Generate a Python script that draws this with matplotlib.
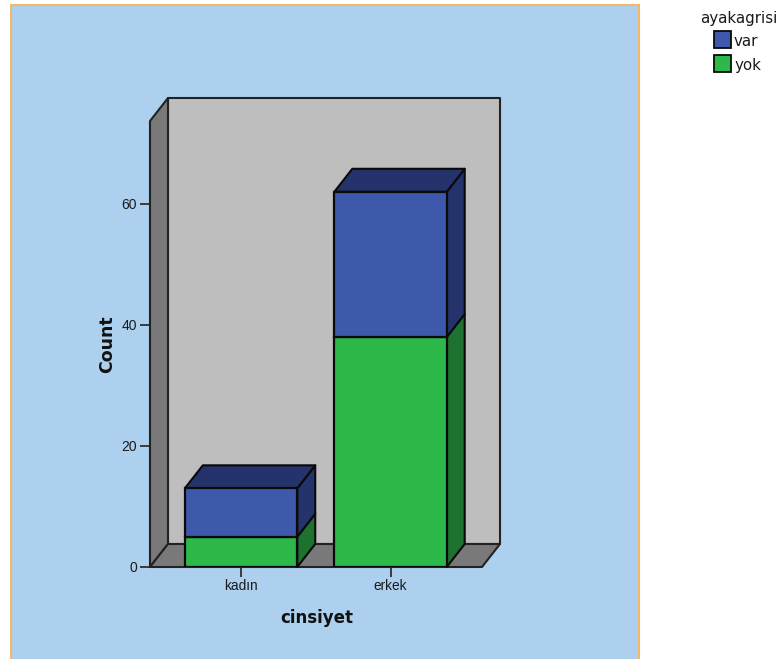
import numpy as np
from matplotlib import pyplot as plt
from matplotlib.patches import Polygon, Rectangle

categories = ['kadın', 'erkek']
yok_counts = np.array([5, 38])
var_counts = np.array([8, 24])
y_ticks = [0, 20, 40, 60]

W, H = 782, 659
BLUE, BLUE_DARK = '#3E58AC', '#24336B'
GREEN, GREEN_DARK = '#2DB84A', '#1C722E'
WALL, WALL_DARK = '#BEBEBE', '#797979'
EDGE = '#0A0A0A'
BAR_WIDTH = 0.752
PANEL = '#ADD0EE'


def fig_box(x0, y0, x1, y1):
    # pixel box, y measured from the top, to figure fractions
    return x0 / W, 1 - y1 / H, (x1 - x0) / W, (y1 - y0) / H


fig = plt.figure(figsize=(W / 100, H / 100), dpi=100, facecolor='white')
plt.rcParams['font.family'] = ['Liberation Sans', 'DejaVu Sans']

x, y, w, h = fig_box(11, 5, 639, 664)
fig.add_artist(Rectangle((x, y), w, h, transform=fig.transFigure, zorder=-1,
                         facecolor=PANEL, edgecolor='#F2B768', linewidth=1.5))

x, y, w, h = fig_box(150, 121, 482, 567)
ax = fig.add_axes([x, y, w, h], facecolor='none')
ax.set_xlim(-0.609, 1.612)
ax.set_ylim(0, 73.7)

# depth of the 3D box, in data units
dx = 18 / 149.5
dy = 23 / 6.05
x_left, x_right = ax.get_xlim()
y_top = ax.get_ylim()[1]


def face(points, color, z=2, edge=EDGE):
    ax.add_patch(Polygon(points, closed=True, facecolor=color, edgecolor=edge,
                         linewidth=1.5, joinstyle='round', clip_on=False, zorder=z))


# back wall, left wall, floor
face([(x_left + dx, dy), (x_right + dx, dy), (x_right + dx, y_top + dy), (x_left + dx, y_top + dy)], WALL, 1, '#222222')
face([(x_left, 0), (x_left + dx, dy), (x_left + dx, y_top + dy), (x_left, y_top)], WALL_DARK, 1, '#222222')
face([(x_left, 0), (x_right, 0), (x_right + dx, dy), (x_left + dx, dy)], WALL_DARK, 1, '#222222')

positions = np.arange(len(categories))
ax.bar(positions, yok_counts, BAR_WIDTH, color=GREEN, edgecolor=EDGE, linewidth=1.6, zorder=4)
ax.bar(positions, var_counts, BAR_WIDTH, bottom=yok_counts, color=BLUE, edgecolor=EDGE, linewidth=1.6, zorder=4)

for pos, low, high in zip(positions, yok_counts, var_counts):
    right = pos + BAR_WIDTH / 2
    left = pos - BAR_WIDTH / 2
    total = low + high
    face([(right, 0), (right + dx, dy), (right + dx, low + dy), (right, low)], GREEN_DARK, 3)
    face([(right, low), (right + dx, low + dy), (right + dx, total + dy), (right, total)], BLUE_DARK, 3)
    face([(left, total), (right, total), (right + dx, total + dy), (left + dx, total + dy)], BLUE_DARK, 3)

for side in ax.spines.values():
    side.set_visible(False)

ax.set_xticks(positions, categories)
ax.set_yticks(y_ticks)
ax.tick_params(axis='y', length=7.5, width=1.2, color='#222222', labelsize=10, labelcolor='#1A1A1A', pad=2)
ax.tick_params(axis='x', length=7, width=1.2, color='#222222', labelsize=9.8, labelcolor='#1A1A1A', pad=2)

fig.text(317 / W, 1 - 618 / H, 'cinsiyet', family='DejaVu Sans', fontweight='bold', fontsize=12,
         ha='center', va='center', color='#111111')
fig.text(107 / W, 1 - 344 / H, 'Count', family='DejaVu Sans', fontweight='bold', fontsize=12.5,
         rotation=90, ha='center', va='center', color='#111111')

# legend
legend_items = [('var', BLUE, 31), ('yok', GREEN, 55)]
fig.text(739 / W, 1 - 18 / H, 'ayakagrisi', family='DejaVu Sans', fontsize=10.8, ha='center', va='center', color='#1A1A1A')
for label, color, top in legend_items:
    x, y, w, h = fig_box(714, top, 731, top + 17)
    fig.add_artist(Rectangle((x, y), w, h, transform=fig.transFigure,
                             facecolor=color, edgecolor=EDGE, linewidth=1.3))
    fig.text(734 / W, 1 - (top + 10.5) / H, label, family='DejaVu Sans', fontsize=10.8, ha='left', va='center', color='#1A1A1A')

fig.savefig('out.png', dpi=100, facecolor=fig.get_facecolor())
